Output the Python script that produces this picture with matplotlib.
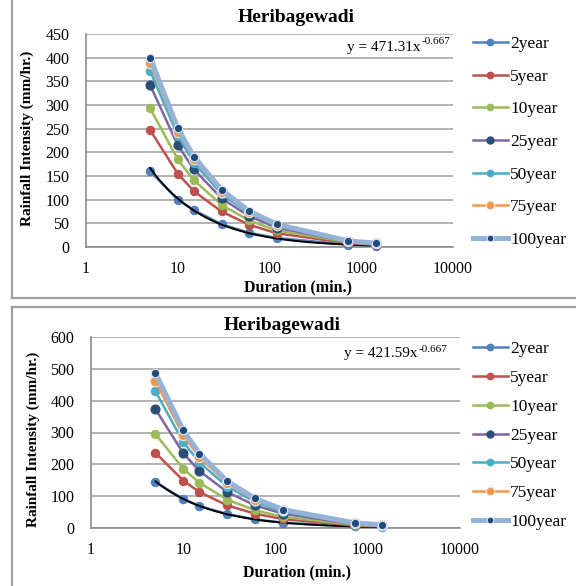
import numpy as np
import matplotlib
matplotlib.use("Agg")
import matplotlib.pyplot as plt
from matplotlib.lines import Line2D
from matplotlib.ticker import FixedLocator, FixedFormatter, NullLocator

plt.rcParams['font.family'] = ['Liberation Serif', 'DejaVu Serif']

# ---------------- data ----------------
durations = [5, 10, 15, 30, 60, 120, 720, 1440]
series_labels = ['2year', '5year', '10year', '25year', '50year', '75year', '100year']
title = 'Heribagewadi'
xlabel = 'Duration (min.)'
ylabel = 'Rainfall Intensity (mm/hr.)'
xtick_vals = [1, 10, 100, 1000, 10000]
xtick_labels = ['1', '10', '100', '1000', '10000']

top_2yr = [160, 100, 78, 48, 30, 19, 5, 3]
top_5yr = [247, 155, 118, 75, 47, 29, 8, 5]
top_10yr = [293, 185, 141, 89, 56, 35, 10, 6]
top_25yr = [342, 215, 164, 103, 65, 41, 11, 7]
top_50yr = [372, 235, 178, 112, 71, 45, 12, 8]
top_75yr = [388, 244, 186, 117, 74, 47, 13, 8]
top_100yr = [400, 251, 191, 121, 76, 48, 13, 8]
top_eq_base = 'y = 471.31x'
top_eq_exp = '-0.667'
top_yticks = [0, 50, 100, 150, 200, 250, 300, 350, 400, 450]

bot_2yr = [144, 91, 69, 44, 27, 17, 5, 3]
bot_5yr = [236, 149, 113, 71, 45, 28, 8, 5]
bot_10yr = [295, 186, 142, 89, 56, 35, 10, 6]
bot_25yr = [373, 235, 179, 113, 71, 45, 12, 8]
bot_50yr = [429, 270, 206, 130, 82, 51, 14, 9]
bot_75yr = [462, 291, 222, 140, 88, 55, 15, 10]
bot_100yr = [487, 307, 234, 147, 93, 58, 16, 10]
bot_eq_base = 'y = 421.59x'
bot_eq_exp = '-0.667'
bot_yticks = [0, 100, 200, 300, 400, 500, 600]

# ---------------- styles ----------------
line_colors = ['#4F81BD', '#C0504D', '#9BBB59', '#8064A2', '#4BACC6', '#F79646', '#95B3D7']
marker_colors = ['#4F81BD', '#C0504D', '#9BBB59', '#2C4D75', '#4BACC6', '#F79646', '#1F497D']
line_widths = [1.8, 1.8, 1.8, 1.8, 1.8, 1.8, 3.6]
marker_sizes = [6, 6, 6, 6.5, 6, 7.5, 6]

W, H = 576, 586
fig = plt.figure(figsize=(W / 100, H / 100), dpi=100)
renderer = fig.canvas.get_renderer()


def fx(px):
    return px / W


def fy(py):
    return 1 - py / H


def panel(rect, series, yticks, eq_base, eq_exp, eq_right, eq_y, title_pos, xlabel_pos,
          ylabel_pos, legend_anchor, labelspacing):
    ax = fig.add_axes(rect)
    ax.set_xscale('log')
    ax.set_xlim(xtick_vals[0], xtick_vals[-1])
    ax.set_ylim(yticks[0], yticks[-1])
    ax.xaxis.set_major_locator(FixedLocator(xtick_vals))
    ax.xaxis.set_major_formatter(FixedFormatter(xtick_labels))
    ax.xaxis.set_minor_locator(NullLocator())
    ax.set_yticks(yticks)
    ax.tick_params(axis='both', length=0, labelsize=11.5)
    ax.tick_params(axis='y', pad=12)
    ax.tick_params(axis='x', pad=10)
    ax.yaxis.grid(True, color='#A6A6A6', lw=1.2)
    ax.set_axisbelow(True)
    for s in ['top', 'right']:
        ax.spines[s].set_visible(False)
    for s in ['left', 'bottom']:
        ax.spines[s].set_color('#8C8C8C')
        ax.spines[s].set_linewidth(1.2)

    handles = []
    for i, (lab, vals) in enumerate(zip(series_labels, series)):
        mec = '#DCE6F2' if i in (5, 6) else marker_colors[i]
        h, = ax.plot(durations, vals, color=line_colors[i], lw=line_widths[i],
                     marker='o', ms=marker_sizes[i], mfc=marker_colors[i],
                     mec=mec, mew=0.8, label=lab, zorder=3 + i, clip_on=False)
        handles.append(h)
        if i == 0:
            # power trendline fitted to the 2-year series
            lx = np.log(np.array(durations, float))
            ly = np.log(np.array(vals, float))
            b, a = np.polyfit(lx, ly, 1)
            xs = np.geomspace(durations[0], durations[-1], 200)
            ax.plot(xs, np.exp(a) * xs ** b, color='black', lw=1.4, zorder=3.5)

    # equation: base text + superscript exponent
    t_exp = fig.text(fx(eq_right), fy(eq_y - 5), eq_exp, ha='right', va='center', fontsize=8)
    w_exp = t_exp.get_window_extent(renderer).width
    fig.text(fx(eq_right - w_exp - 0.5), fy(eq_y), eq_base, ha='right', va='center',
             fontsize=11)

    fig.text(fx(title_pos[0]), fy(title_pos[1]), title, ha='center', va='center',
             fontsize=14, fontweight='bold')
    fig.text(fx(xlabel_pos[0]), fy(xlabel_pos[1]), xlabel, ha='center', va='center',
             fontsize=11.5, fontweight='bold')
    fig.text(fx(ylabel_pos[0]), fy(ylabel_pos[1]), ylabel, ha='center', va='center',
             fontsize=11, fontweight='bold', rotation=90)

    ax.legend(handles=handles, loc='upper left',
              bbox_to_anchor=(fx(legend_anchor[0]), fy(legend_anchor[1])),
              bbox_transform=fig.transFigure, frameon=False, fontsize=12.5,
              handlelength=2.0, handletextpad=0.15, borderpad=0, borderaxespad=0,
              labelspacing=labelspacing, markerscale=0.8)
    return ax


# top panel
panel([fx(86), fy(247), fx(453) - fx(86), fy(34) - fy(247)],
      [top_2yr, top_5yr, top_10yr, top_25yr, top_50yr, top_75yr, top_100yr],
      top_yticks, top_eq_base, top_eq_exp, 450, 47, (296, 18), (298, 287), (27, 138),
      (473, 36), 0.95)

# bottom panel
panel([fx(91), fy(528), fx(460) - fx(91), fy(337) - fy(528)],
      [bot_2yr, bot_5yr, bot_10yr, bot_25yr, bot_50yr, bot_75yr, bot_100yr],
      bot_yticks, bot_eq_base, bot_eq_exp, 447, 354, (282, 325), (297, 572), (33, 439),
      (473, 341), 0.73)

# panel borders
border = dict(color='#A0A0A0', lw=1.6, transform=fig.transFigure)
fig.add_artist(Line2D([fx(12), fx(12)], [1, fy(298)], **border))
fig.add_artist(Line2D([fx(12), 1], [fy(298), fy(298)], **border))
fig.add_artist(Line2D([fx(12), 1], [fy(307), fy(307)], **border))
fig.add_artist(Line2D([fx(12), fx(12)], [fy(307), 0], **border))

fig.savefig('out.png', dpi=100)
